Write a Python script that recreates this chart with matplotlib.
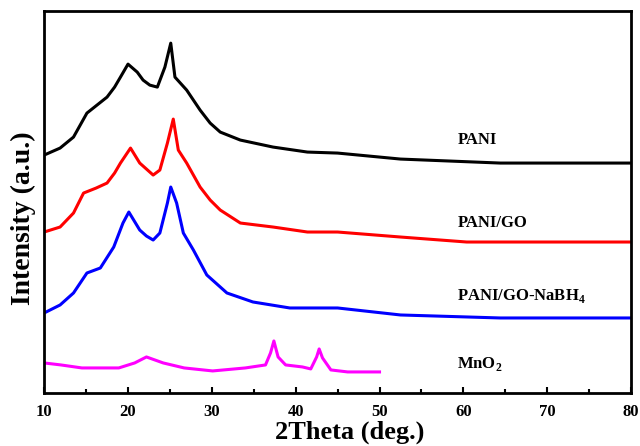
import numpy as np
import matplotlib.pyplot as plt
from matplotlib.ticker import MultipleLocator

plt.rcParams['font.family'] = ['Liberation Serif', 'DejaVu Serif']
plt.rcParams['mathtext.fontset'] = 'custom'
plt.rcParams['mathtext.rm'] = 'Liberation Serif'
plt.rcParams['mathtext.bf'] = 'Liberation Serif:bold'

# 2theta positions (deg.) and intensities (a.u., stacked)
pani_x = [10.0, 11.9, 13.5, 15.1, 16.3, 17.5, 18.4, 19.1, 20.0, 21.1, 21.8, 22.6, 23.5, 24.4,
          25.1, 25.6, 27.0, 28.6, 29.8, 31.0, 33.4, 37.3, 41.4, 45.0, 52.5, 64.4, 80.0]
pani_y = [238, 245, 256, 280, 288, 296, 306, 316, 329, 321, 313, 308, 306, 326,
          350, 316, 303, 283, 270, 261, 253, 246, 241, 240, 234, 230, 230]

pani_go_x = [10.0, 11.9, 13.5, 14.7, 16.2, 17.5, 18.4, 19.1, 20.3, 21.4, 22.2, 23.0, 23.8, 24.7,
             25.4, 26.0, 27.0, 28.6, 29.8, 31.0, 33.4, 37.3, 41.4, 45.0, 52.5, 60.4, 80.0]
pani_go_y = [161, 166, 180, 200, 205, 210, 220, 230, 245, 230, 224, 218, 223, 250,
             274, 243, 230, 206, 193, 183, 170, 166, 161, 161, 156, 151, 151]

pani_go_nabh4_x = [10.0, 11.9, 13.5, 15.1, 16.7, 18.3, 19.4, 20.1, 21.4, 22.2, 23.0, 23.8, 24.7,
                   25.1, 25.8, 26.6, 27.8, 29.4, 31.8, 34.9, 39.3, 45.0, 52.5, 64.4, 80.0]
pani_go_nabh4_y = [80, 88, 100, 120, 125, 146, 170, 181, 163, 157, 153, 160, 190,
                   206, 190, 160, 143, 118, 100, 91, 85, 85, 78, 75, 75]

mno2_x = [10.0, 12.0, 14.5, 18.9, 20.8, 22.2, 24.2, 26.7, 30.1, 34.0, 36.4, 37.0,
          37.4, 37.9, 38.8, 40.8, 41.8, 42.5, 42.8, 43.2, 44.2, 46.2, 50.0]
mno2_y = [30, 28, 25, 25, 30, 36, 30, 25, 22, 25, 28, 40,
          52, 36, 28, 26, 24, 36, 44, 35, 23, 21, 21]

series = [(pani_x, pani_y, 'black', 'PANI', 253),
          (pani_go_x, pani_go_y, 'red', 'PANI/GO', 170),
          (pani_go_nabh4_x, pani_go_nabh4_y, 'blue', r'PANI/GO-NaBH$_\mathbf{4}$', 97),
          (mno2_x, mno2_y, 'magenta', r'MnO$_\mathbf{2}$', 29)]

fig = plt.figure(figsize=(6.4, 4.46), dpi=100)
ax = fig.add_axes([0.069, 0.119, 0.917, 0.856])

for x, y, c, name, ly in series:
    ax.plot(x, y, color=c, lw=2.2, solid_joinstyle='round')
    ax.text(59.3, ly, name, fontsize=12, fontweight='bold', va='center', ha='left')

ax.set_xlim(10, 80)
ax.set_ylim(0, 382)
ax.set_yticks([])
ax.xaxis.set_major_locator(MultipleLocator(10))
ax.xaxis.set_minor_locator(MultipleLocator(5))
ax.tick_params(axis='x', which='major', direction='in', length=4, width=1.5,
               labelsize=12, pad=8)
ax.tick_params(axis='x', which='minor', direction='in', length=3, width=1.5)
for lab in ax.get_xticklabels():
    lab.set_fontweight('bold')
for sp in ax.spines.values():
    sp.set_linewidth(2)

ax.set_xlabel('2Theta (deg.)', fontsize=19, fontweight='bold')
ax.set_ylabel('Intensity (a.u.)', fontsize=20, fontweight='bold')
ax.xaxis.set_label_coords(0.521, -0.072)
ax.yaxis.set_label_coords(-0.014, 0.458)

fig.savefig('out.png', dpi=100)
